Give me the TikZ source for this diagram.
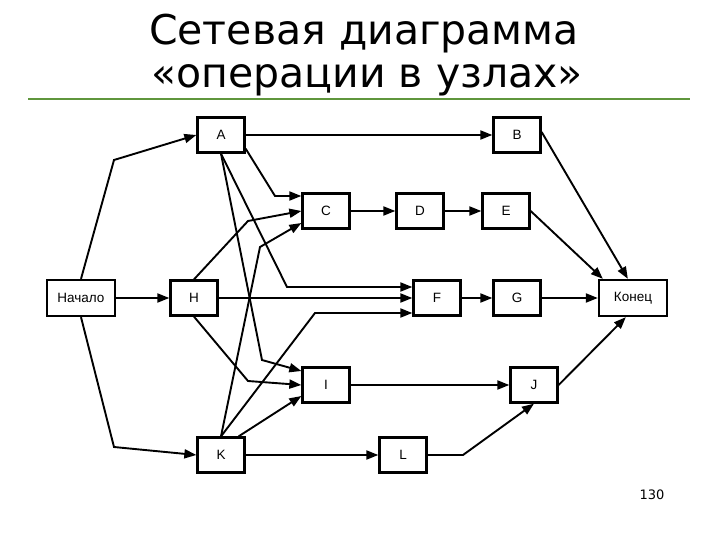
\documentclass[tikz,border=0pt]{standalone}
\usepackage{fontspec}
\setmainfont{DejaVu Sans}
\newfontfamily\boxfont{Liberation Sans}
\usetikzlibrary{arrows.meta}
\tikzset{>={Triangle[length=12pt,width=9pt]},every node/.style={font=\boxfont\fontsize{13.5}{15}\selectfont},
op/.style={draw,line width=2.3pt,minimum width=47pt,minimum height=35pt,inner sep=0pt},
ends/.style={op,minimum width=68pt,minimum height=36pt},
flow/.style={line width=1.9pt,->}}

\begin{document}
\begin{tikzpicture}[x=1pt,y=-1pt]
\useasboundingbox (0,0) rectangle (720,540);
\node[font=\fontsize{41}{45}\selectfont,anchor=base] (t1) at (364,45){Сетевая диаграмма};
\node[font=\fontsize{41}{45}\selectfont,anchor=base] (t2) at (367,88){«операции в узлах»};
\draw[line width=1.5pt,color={rgb,255:red,95;green,150;blue,60}] (28,99)--(690,99);
\node[font=\fontsize{13}{15}\selectfont,anchor=base east] (pg) at (668,499){130};
% узлы
\node[ends] (st) at (81,298){Начало};\node[ends] (fin) at (633,298){Конец};
\node[op] (a) at (221,135){A};\node[op] (b) at (517,135){B};
\node[op] (c) at (326,211){C};\node[op] (d) at (420,211){D};\node[op] (e) at (506,211){E};
\node[op] (h) at (194,298){H};\node[op] (f) at (437,298){F};\node[op] (g) at (517,298){G};
\node[op] (i) at (326,385){I};\node[op] (j) at (534,385){J};
\node[op] (k) at (221,455){K};\node[op] (l) at (403,455){L};
% связи
\draw[flow] (st.north)--(114,160)--(a.west);\draw[flow] (st)--(h);\draw[flow] (st.south)--(114,447)--(k.west);
\draw[flow] (a)--(b);\draw[flow] ([yshift=5pt]a.south east)--(275,196)--([yshift=15pt]c.west);
\draw[flow] (a.south)--(287,287)--([yshift=11pt]f.west);\draw[flow] (a.south)--(262,360)--([yshift=14pt]i.west);
\draw[flow] (h.north)--(248,221)--(c.west);\draw[flow] (h)--(f);\draw[flow] (h.south)--(248,381)--(i.west);
\draw[flow] (k.north)--(260,247)--([yshift=-12pt]c.west);\draw[flow] (k.north)--(315,313)--([yshift=-15pt]f.west);
\draw[flow] ([xshift=-7pt]k.north east)--([yshift=-11pt]i.west);\draw[flow] (k)--(l);
\draw[flow] (c)--(d);\draw[flow] (d)--(e);\draw[flow] (f)--(g);\draw[flow] (g)--(fin);\draw[flow] (i)--(j);
\draw[flow] (e.east)--([xshift=5pt]fin.north west);\draw[flow] ([yshift=3pt]b.east)--([xshift=30pt]fin.north west);
\draw[flow] (j.east)--([xshift=28pt]fin.south west);\draw[flow] (l.east)--(463,455)--(j.south);
\end{tikzpicture}
\end{document}
